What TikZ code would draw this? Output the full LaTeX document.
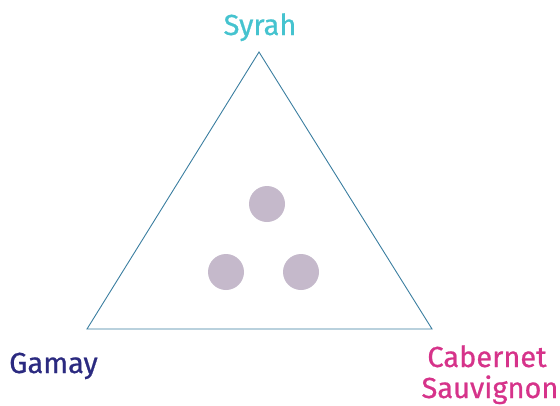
\documentclass[tikz,border=0pt]{standalone}
\usepackage{fontspec}
\setmainfont{Fira Sans}
\newfontfamily\lblfont[FakeBold=0.7]{Fira Sans}
\definecolor{syrahc}{HTML}{45C3CF}
\definecolor{gamayc}{HTML}{2B2A80}
\definecolor{cabc}{HTML}{D6338A}
\definecolor{triC}{HTML}{3A7EA0}
\definecolor{dotc}{HTML}{C5B9CB}
\begin{document}
\begin{tikzpicture}[x=1pt,y=-1pt,
  lbl/.style={inner sep=0pt,font=\lblfont\fontsize{29}{32}\selectfont},
  dot/.style={circle,fill=dotc,minimum size=36pt,inner sep=0pt}]
\useasboundingbox (0,0) rectangle (560,405);
\coordinate (top) at (259,52);
\coordinate (bl) at (87,329);
\coordinate (br) at (432,329);
\draw[triC,line width=0.9pt,line join=miter] (top) -- (bl) -- (br) -- cycle;
\node[dot] (d1) at (267,204) {};
\node[dot] (d2) at (226,272) {};
\node[dot] (d3) at (301,272) {};
\node[lbl,text=syrahc,anchor=base] (syrah) at (260,35) {Syrah};
\node[lbl,text=gamayc,anchor=base west] (gamay) at (9,373) {Gamay};
\node[lbl,text=cabc,anchor=base] (cab1) at (487,367) {Cabernet};
\node[lbl,text=cabc,anchor=base] (cab2) at (490,398) {Sauvignon};
\end{tikzpicture}
\end{document}
